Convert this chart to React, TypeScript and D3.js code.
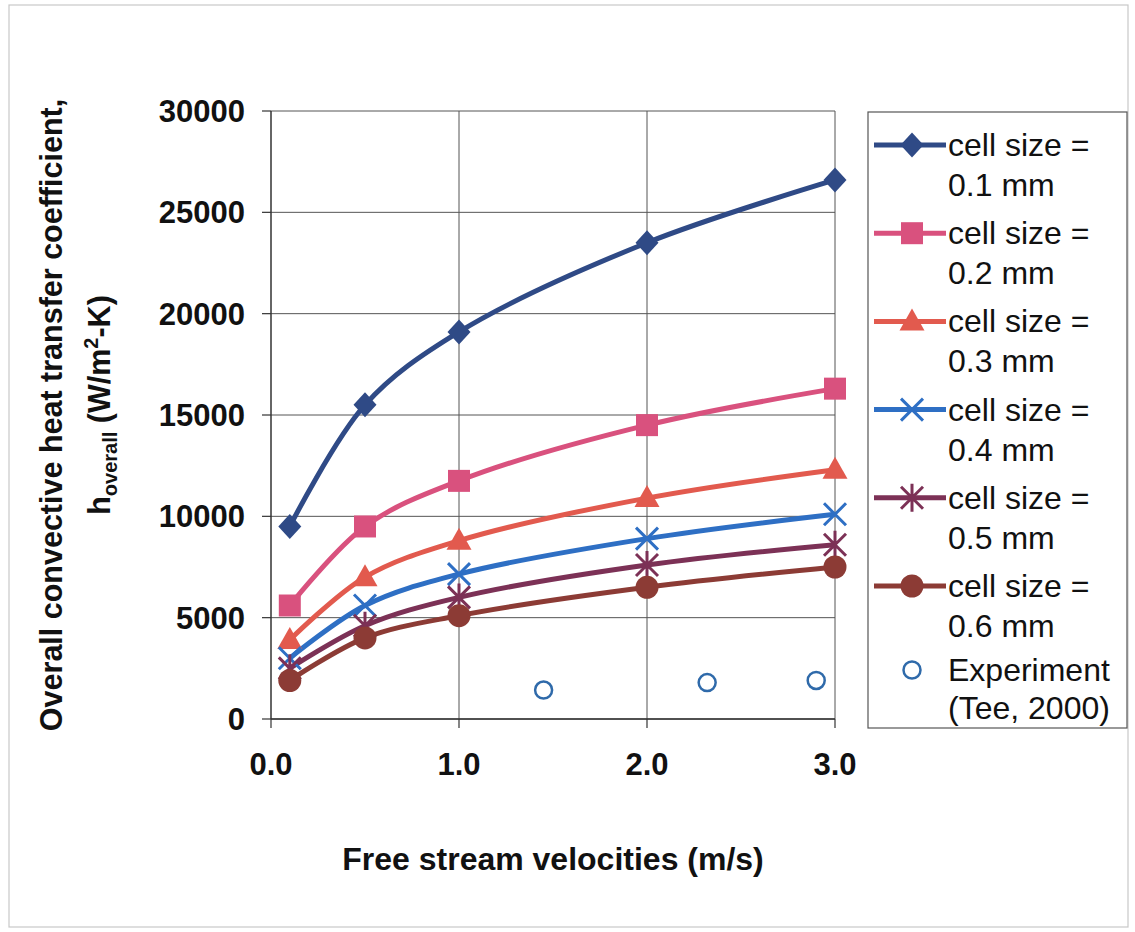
import React from "react";
import * as d3 from "d3";

const velocities = [0.1, 0.5, 1.0, 2.0, 3.0];
const cell01 = [9500, 15500, 19100, 23500, 26600];
const cell02 = [5600, 9500, 11750, 14500, 16300];
const cell03 = [3900, 7000, 8800, 10900, 12300];
const cell04 = [3000, 5600, 7150, 8900, 10100];
const cell05 = [2500, 4600, 6000, 7600, 8600];
const cell06 = [1900, 4000, 5100, 6500, 7500];
const expVel = [1.45, 2.32, 2.9];
const expH = [1430, 1800, 1900];
const xTicks = [0, 1, 2, 3];
const yTicks = [0, 5000, 10000, 15000, 20000, 25000, 30000];
const seriesNames = ["0.1 mm", "0.2 mm", "0.3 mm", "0.4 mm", "0.5 mm", "0.6 mm"];

const series = [
  { name: seriesNames[0], values: cell01, color: "#2f4a86", marker: "diamond" },
  { name: seriesNames[1], values: cell02, color: "#d9517e", marker: "square" },
  { name: seriesNames[2], values: cell03, color: "#e25a4e", marker: "triangle" },
  { name: seriesNames[3], values: cell04, color: "#2e6fc4", marker: "x" },
  { name: seriesNames[4], values: cell05, color: "#7c3156", marker: "star" },
  { name: seriesNames[5], values: cell06, color: "#8c3b35", marker: "circle" },
];

const FONT = "'Liberation Sans', Arial, Helvetica, sans-serif";

function Marker({ type, x, y, color }: { type: string; x: number; y: number; color: string }) {
  const t = `translate(${x},${y})`;
  switch (type) {
    case "diamond":
      return <path transform={t} d="M0,-12.5L11.5,0L0,12.5L-11.5,0Z" fill={color} />;
    case "square":
      return <rect transform={t} x={-11} y={-11} width={22} height={22} fill={color} />;
    case "triangle":
      return <path transform={t} d="M0,-13L12.5,9L-12.5,9Z" fill={color} />;
    case "x":
      return (
        <path transform={t} d="M-11,-11L11,11M-11,11L11,-11" stroke={color} strokeWidth={3} fill="none" />
      );
    case "star":
      return (
        <path
          transform={t}
          d="M-11,-11L11,11M-11,11L11,-11M0,-14L0,14"
          stroke={color}
          strokeWidth={3}
          fill="none"
        />
      );
    case "circle":
      return <circle cx={x} cy={y} r={11.5} fill={color} />;
    default:
      return null;
  }
}

export default function App() {
  const W = 1135;
  const H = 932;
  const left = 271,
    right = 835,
    top = 111,
    bottom = 719;
  const x = d3.scaleLinear().domain([0, 3]).range([left, right]);
  const y = d3.scaleLinear().domain([0, 30000]).range([bottom, top]);
  const line = d3
    .line<number>()
    .x((_, i) => x(velocities[i]))
    .y((d) => y(d))
    .curve(d3.curveCatmullRom.alpha(0.5));

  const legX = 868,
    legY = 112,
    legW = 259,
    legH = 616;
  const rowStart = 145;
  const rowStep = 88.2;

  return (
    <svg
      width={W}
      height={H}
      style={{ position: "absolute", left: 0, top: 0, background: "#fff" }}
      fontFamily={FONT}
    >
      <rect x={0} y={0} width={W} height={H} fill="#fff" />
      <rect x={9} y={5} width={1119} height={922} fill="none" stroke="#c8c8c8" strokeWidth={1.2} />

      {/* grid */}
      {yTicks.map((t) => (
        <line key={"gy" + t} x1={left} x2={right} y1={y(t)} y2={y(t)} stroke="#555" strokeWidth={1} />
      ))}
      {xTicks
        .filter((t) => t > 0)
        .map((t) => (
          <line key={"gx" + t} x1={x(t)} x2={x(t)} y1={top} y2={bottom} stroke="#555" strokeWidth={1} />
        ))}

      {/* axes */}
      <line x1={left} x2={left} y1={top} y2={bottom} stroke="#333" strokeWidth={1.5} />
      <line x1={left} x2={right} y1={bottom} y2={bottom} stroke="#333" strokeWidth={1.5} />
      {yTicks.map((t) => (
        <line key={"ty" + t} x1={left - 9} x2={left} y1={y(t)} y2={y(t)} stroke="#333" strokeWidth={1.2} />
      ))}
      {xTicks.map((t) => (
        <line key={"tx" + t} x1={x(t)} x2={x(t)} y1={bottom} y2={bottom + 9} stroke="#333" strokeWidth={1.2} />
      ))}

      {/* tick labels */}
      {yTicks.map((t) => (
        <text
          key={"ly" + t}
          x={245}
          y={y(t)}
          dy="0.36em"
          textAnchor="end"
          fontSize={31}
          fontWeight="bold"
          fill="#111"
        >
          {t}
        </text>
      ))}
      {xTicks.map((t) => (
        <text key={"lx" + t} x={x(t)} y={775} textAnchor="middle" fontSize={31} fontWeight="bold" fill="#111">
          {t.toFixed(1)}
        </text>
      ))}

      {/* axis titles */}
      <text x={553} y={870} textAnchor="middle" fontSize={32} fontWeight="bold" fill="#111">
        Free stream velocities (m/s)
      </text>
      <text
        transform={`translate(62,${(top + bottom) / 2}) rotate(-90)`}
        textAnchor="middle"
        fontSize={30.5}
        fontWeight="bold"
        fill="#111"
      >
        Overall convective heat transfer coefficient,
      </text>
      <text
        transform={`translate(110,${(top + bottom) / 2 - 10}) rotate(-90)`}
        textAnchor="middle"
        fontSize={30.5}
        fontWeight="bold"
        fill="#111"
      >
        h
        <tspan fontSize={20} dy={7}>
          overall
        </tspan>
        <tspan dy={-7}> (W/m</tspan>
        <tspan fontSize={20} dy={-12}>
          2
        </tspan>
        <tspan dy={12}>-K)</tspan>
      </text>

      {/* series lines */}
      {series.map((s) => (
        <path key={"p" + s.name} d={line(s.values) || ""} fill="none" stroke={s.color} strokeWidth={5} />
      ))}
      {series.map((s) =>
        s.values.map((v, i) => (
          <Marker key={s.name + i} type={s.marker} x={x(velocities[i])} y={y(v)} color={s.color} />
        ))
      )}
      {expVel.map((v, i) => (
        <circle key={"e" + i} cx={x(v)} cy={y(expH[i])} r={8.5} fill="none" stroke="#2f6aaa" strokeWidth={2.5} />
      ))}

      {/* legend */}
      <rect x={legX} y={legY} width={legW} height={legH} fill="#fff" stroke="#555" strokeWidth={1.2} />
      {series.map((s, i) => {
        const cy = rowStart + i * rowStep;
        return (
          <g key={"lg" + i}>
            <line x1={874} x2={946} y1={cy} y2={cy} stroke={s.color} strokeWidth={5} />
            <Marker type={s.marker} x={912} y={cy} color={s.color} />
            <text x={948} y={cy + 11} fontSize={32} fill="#111">
              cell size =
            </text>
            <text x={948} y={cy + 51} fontSize={32} fill="#111">
              {s.name}
            </text>
          </g>
        );
      })}
      <circle cx={912} cy={670} r={8.5} fill="none" stroke="#2f6aaa" strokeWidth={2.5} />
      <text x={948} y={681} fontSize={32} fill="#111">
        Experiment
      </text>
      <text x={948} y={719} fontSize={32} fill="#111">
        (Tee, 2000)
      </text>
    </svg>
  );
}
